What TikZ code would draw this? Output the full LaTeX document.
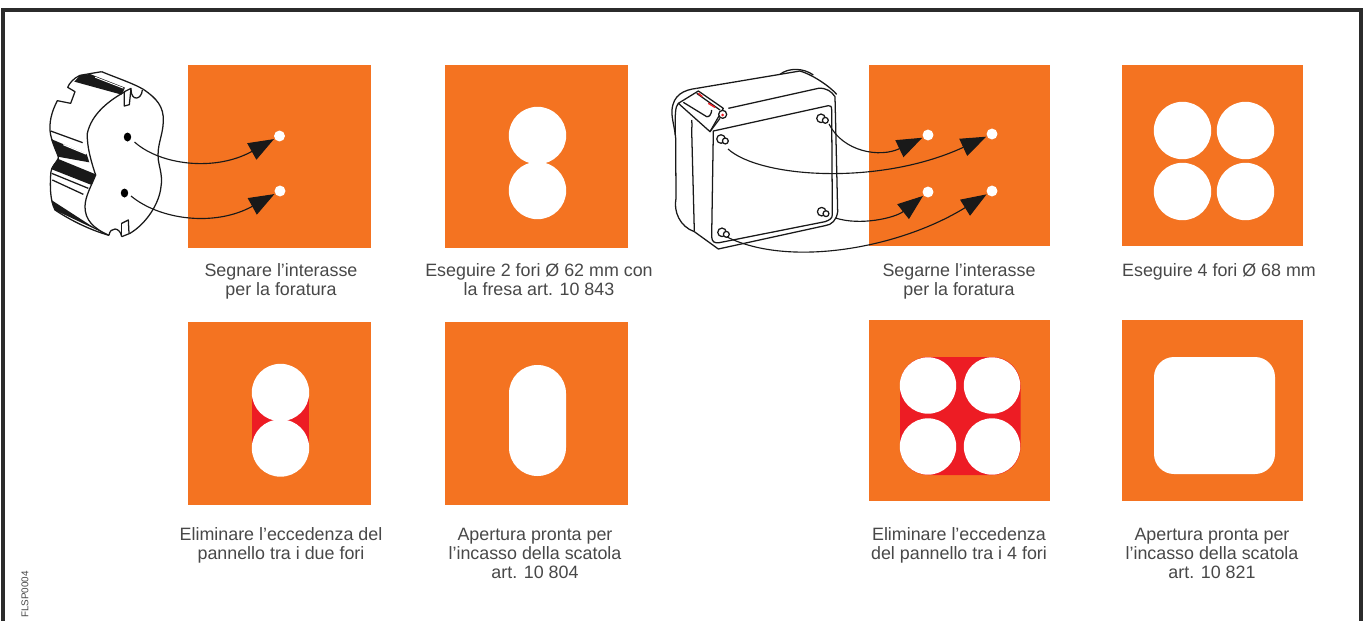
\documentclass[tikz,border=0pt]{standalone}
\usepackage{fontspec}
\setmainfont{Liberation Sans}
\usetikzlibrary{arrows.meta}
\definecolor{panelorange}{HTML}{F47321}
\definecolor{cutred}{HTML}{ED1C24}
\definecolor{inkgrey}{HTML}{484848}
\definecolor{frameblack}{HTML}{2B2B2B}
\tikzset{
  x=0.75pt,y=-0.75pt,
  panel/.style={fill=panelorange,draw=none},
  hole/.style={fill=white,draw=none},
  captext/.style={font=\fontsize{13.4}{14.3}\selectfont,text=inkgrey,align=center,anchor=north,inner sep=0pt},
  dot/.style={circle,fill=white,draw=none,minimum size=8.2pt,inner sep=0pt},
  flow/.style={line width=0.85pt,color=black!90,shorten >=0.5pt,-{Triangle[length=19pt,width=14pt]}},
  art/.style={line width=0.95pt,color=black!90,line join=round},
  ink/.style={fill=black!90,draw=none},
}
\begin{document}
\begin{tikzpicture}
\useasboundingbox (0,0) rectangle (1371,621);
\fill[white] (0,0) rectangle (1371,621);
\draw[line width=2.4pt,frameblack] (3,622) -- (3,10) -- (1361,10) -- (1361,622);

% panels
\fill[panel] (188,65) rectangle (371,248);
\fill[panel] (445,65) rectangle (628,248);
\fill[panel] (188,322) rectangle (371,505);
\fill[panel] (445,322) rectangle (628,505);
\fill[panel] (869,65) rectangle (1050,246);
\fill[panel] (1122,65) rectangle (1303,246);
\fill[panel] (869,320) rectangle (1050,501);
\fill[panel] (1122,320) rectangle (1303,501);

% two holes
\fill[hole] (537.5,135.5) circle (28.7);
\fill[hole] (537.5,190.5) circle (28.7);
% excess between two holes
\fill[cutred] (252,392.5) rectangle (309,448);
\fill[hole] (280.5,392.5) circle (28.7);
\fill[hole] (280.5,448) circle (28.7);
% slot
\fill[hole,rounded corners=21.3pt] (509,365) rectangle (566,476);
% four holes
\foreach \cx in {1182.5,1245.5}\foreach \cy in {130.5,191.5}{\fill[hole] (\cx,\cy) circle (28.7);}
% excess four
\fill[cutred,rounded corners=21pt] (900,357) rectangle (1020.5,475);
\foreach \cx in {928,992}\foreach \cy in {385.5,446.5}{\fill[hole] (\cx,\cy) circle (28.2);}
% rounded square
\fill[hole,rounded corners=15pt] (1154,357) rectangle (1275,474);

% captions
\node[captext] (c1) at (281,263) {Segnare l'interasse\\per la foratura};
\node[captext] (c2) at (539,263) {Eseguire 2 fori Ø 62 mm con\\la fresa art. 10 843};
\node[captext] (c3) at (281,527.5) {Eliminare l'eccedenza del\\pannello tra i due fori};
\node[captext] (c4) at (535,527.5) {Apertura pronta per\\l'incasso della scatola\\art. 10 804};
\node[captext] (c5) at (959,263) {Segarne l'interasse\\per la foratura};
\node[captext] (c6) at (1219,263) {Eseguire 4 fori Ø 68 mm};
\node[captext] (c7) at (959,527.5) {Eliminare l'eccedenza\\del pannello tra i 4 fori};
\node[captext] (c8) at (1212,527.5) {Apertura pronta per\\l'incasso della scatola\\art. 10 821};
\node[rotate=90,anchor=west,inner sep=0pt,font=\fontsize{7.4}{8}\selectfont,text=inkgrey] (code) at (25,618) {FLSP0004};

% round cylinder box
\begin{scope}[shift={(30,50)},x=0.25pt,y=-0.25pt]
\fill[ink] (133,95) -- (150,76) -- (180,72) -- (285,113) -- (275,134) -- cycle;
\fill[white] (195,80) -- (280,113) -- (280,116) -- (195,83) -- cycle;
\fill[ink] (63,267) -- (170,312) -- (178,337) -- (83,320) .. controls (75,300) and (68,285) .. (63,267) -- cycle;
\fill[white] (100,282) -- (168,310) -- (168,314) -- (100,286) -- cycle;
\fill[ink] (85,327) -- (197,373) -- (185,405) -- (63,357) .. controls (68,345) and (78,335) .. (85,327) -- cycle;
\fill[ink] (64,450) .. controls (66,462) and (70,472) .. (76,481) -- (235,556) -- (180,525) -- cycle;
\draw[art] (215,65) .. controls (250,80) and (310,100) .. (340,118)
  .. controls (380,145) and (402,170) .. (400,215)
  .. controls (398,260) and (380,285) .. (385,330)
  .. controls (390,360) and (398,380) .. (393,410)
  .. controls (388,460) and (350,520) .. (300,550)
  -- (275,560);
\draw[art] (215,65) -- (150,76) .. controls (130,85) and (118,100) .. (113,112)
  -- (135,125) -- (122,160) -- (82,152)
  .. controls (65,185) and (55,220) .. (62,255)
  .. controls (68,285) and (85,300) .. (85,325)
  .. controls (78,340) and (62,350) .. (62,375)
  .. controls (60,410) and (60,450) .. (75,480)
  .. controls (120,510) and (180,540) .. (237,556);
\draw[art] (285,125) .. controls (240,150) and (185,190) .. (172,250)
  .. controls (170,290) and (185,340) .. (197,375)
  .. controls (185,405) and (165,440) .. (165,470)
  .. controls (165,510) and (190,535) .. (237,556);
\draw[art] (62,243) -- (158,278);
\draw[art] (65,370) -- (175,415);
\draw[art] (67,390) -- (160,433);
\draw[art] (283,125) -- (283,168) -- (298,164) -- (303,115) -- cycle;
\draw[art] (303,118) .. controls (303,155) and (335,150) .. (337,120);
\draw[art] (237,556) .. controls (240,530) and (270,530) .. (275,560);
\draw[art] (275,520) -- (295,510) -- (297,550);
\draw[art] (275,520) -- (275,558);
\end{scope}

% square box
\begin{scope}[shift={(660,55)},x=0.25pt,y=-0.25pt]
\draw[art] (160,228) -- (505,152) .. controls (512,150) and (515,155) .. (515,165)
  -- (517,478) .. controls (517,490) and (510,495) .. (495,500)
  -- (178,563) .. controls (162,565) and (156,560) .. (155,545) -- cycle;
\draw[art] (205,160) -- (475,100) .. controls (500,98) and (515,110) .. (525,125)
  -- (533,470) .. controls (530,495) and (515,510) .. (495,512)
  -- (175,582) -- (103,530);
\draw[art] (110,100) -- (420,48) .. controls (460,60) and (510,95) .. (530,118);
\draw[art] (360,58) .. controls (385,38) and (430,38) .. (460,60);
\draw[art] (110,100) .. controls (70,105) and (40,120) .. (36,165)
  .. controls (34,190) and (45,220) .. (47,250) -- (48,430)
  .. controls (40,470) and (60,515) .. (103,530);
\draw[art] (55,145) .. controls (45,155) and (45,180) .. (46,240);
\draw[art] (95,195) .. controls (98,205) and (95,215) .. (95,225) -- (103,530);
\draw[art] (55,145) -- (115,108) -- (190,160) -- (150,230) -- cycle;
\draw[art] (70,142) -- (140,185) .. controls (148,188) and (155,175) .. (155,165);
\draw[art] (110,115) -- (180,165);
\draw[art,fill=white] (188,178) circle (3pt);
\draw[art] (150,230) -- (180,190);
\foreach \hx/\hy in {483/190,183/252,485/470,186/532}{
  \draw[art] (\hx,\hy) circle (3.2pt);
  \draw[art,fill=white] (\hx+13,\hy+6) circle (2.2pt);
}
\draw[line width=1.1pt,cutred] (115,115) -- (127,125);
\draw[line width=1.1pt,cutred] (145,145) -- (165,157);
\fill[cutred] (188,180) circle (1.1pt);
\end{scope}

% target dots
\node[dot] (t1) at (279.5,136) {};
\node[dot] (t2) at (280,191) {};
\node[dot] (t3) at (928,135) {};
\node[dot] (t4) at (992,134) {};
\node[dot] (t5) at (928,192) {};
\node[dot] (t6) at (992,191) {};
% source holes
\fill[black] (127.5,137) ellipse (3.7 and 4.5);
\fill[black] (124.5,193) ellipse (3.7 and 4.5);
\coordinate (s1) at (134.5,142);
\coordinate (s2) at (131,196);
\coordinate (s3) at (829,124);
\coordinate (s4) at (728,149);
\coordinate (s5) at (835.5,218);
\coordinate (s6) at (727,237);
\draw[flow] (s1) .. controls (160,165) and (215,172) .. (t1);
\draw[flow] (s2) .. controls (160,220) and (215,227) .. (t2);
\draw[flow] (s3) .. controls (843,152) and (880,158) .. (t3);
\draw[flow] (s4) .. controls (760,178) and (880,186) .. (t4);
\draw[flow] (s5) .. controls (860,226) and (895,218) .. (t5);
\draw[flow] (s6) .. controls (790,268) and (900,248) .. (t6);
\end{tikzpicture}
\end{document}
